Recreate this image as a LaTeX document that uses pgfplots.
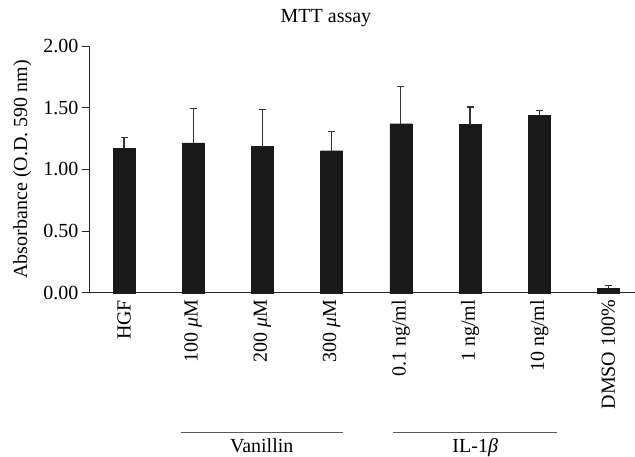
\documentclass[border=0pt]{standalone}
\usepackage{pgfplots}
\pgfplotsset{compat=1.18}
\usepackage{fontspec}
\setmainfont{Liberation Serif}
\newcommand\ff{\fontsize{20bp}{24bp}\selectfont}
\begin{document}
\begin{tikzpicture}
\path[use as bounding box] (-89bp,-164.3bp) rectangle (546bp,292.7bp);
\begin{axis}[
  at={(0,0)}, anchor=south west,
  scale only axis, width=546bp, height=246.7bp,
  xmin=-0.506, xmax=7.384, ymin=0, ymax=2,
  axis x line=bottom, axis y line=left,
  axis line style={-, line width=0.9bp, black!85},
  ytick={0,0.5,1,1.5,2},
  tick align=outside, major tick length=7bp,
  ytick style={line width=0.9bp, black!85},
  yticklabel style={font=\ff, /pgf/number format/fixed, /pgf/number format/fixed zerofill, /pgf/number format/precision=2, /pgf/number format/assume math mode=true},
  xtick={0,1,2,3,4,5,6,7}, xtick style={draw=none},
  xticklabels={HGF, 100 \textit{μ}M, 200 \textit{μ}M, 300 \textit{μ}M, 0.1 ng/ml, 1 ng/ml, 10 ng/ml, DMSO 100\%},
  xticklabel style={rotate=90, anchor=east, inner sep=0pt, font=\ff},
  ylabel={Absorbance (O.D. 590 nm)},
  ylabel style={font=\ff, at={(axis description cs:-0.122,0.5)}, anchor=center},
  title={MTT assay},
  title style={font=\ff, at={(axis description cs:0.434,1.0709)}, anchor=base},
  clip=false,
]
\addplot[ybar, bar width=22bp, bar shift=0pt, fill=black!90, draw=black!90,
  error bars/.cd, y dir=plus, y explicit,
  error bar style={line width=1.2bp, black!80},
  error mark options={rotate=90, mark size=3.5bp, line width=1.2bp, black!80}]
  table[x=x, y=y, y error=e] {
x y e
0 1.170 0.087
1 1.214 0.281
2 1.184 0.303
3 1.151 0.154
4 1.370 0.303
5 1.362 0.144
6 1.435 0.041
7 0.036 0.021
};
\draw[line width=1.5bp, black!65] (axis cs:0.82,-1.135) -- (axis cs:3.16,-1.135);
\draw[line width=1.5bp, black!65] (axis cs:3.89,-1.135) -- (axis cs:6.26,-1.135);
\node[font=\ff, anchor=base] at (axis cs:1.99,-1.2955) {Vanillin};
\node[font=\ff, anchor=base] at (axis cs:5.075,-1.2955) {IL-1\textit{β}};
\end{axis}
\end{tikzpicture}
\end{document}
